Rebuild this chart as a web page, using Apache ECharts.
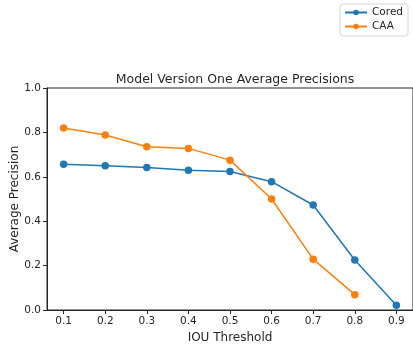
<!DOCTYPE html>
<html>
<head>
<meta charset="utf-8">
<script src="https://cdn.jsdelivr.net/npm/echarts@6/dist/echarts.min.js"></script>
<style>
  html, body { margin: 0; padding: 0; background: #fff; }
  #chart { width: 413px; height: 351px; }
</style>
</head>
<body>
<div id="chart"></div>
<script>
// IOU thresholds and average precision per model variant
const thresholds = [0.1, 0.2, 0.3, 0.4, 0.5, 0.6, 0.7, 0.8, 0.9];
const coredAP = [0.656, 0.650, 0.642, 0.630, 0.624, 0.578, 0.473, 0.225, 0.021];
const caaAP = [0.820, 0.788, 0.735, 0.728, 0.675, 0.500, 0.229, 0.069];
const xTicks = [0.1, 0.2, 0.3, 0.4, 0.5, 0.6, 0.7, 0.8, 0.9];

const font = 'DejaVu Sans';
const ink = '#262626';

const pairs = (xs, ys) => ys.map((y, i) => [xs[i], y]);

const chart = echarts.init(document.getElementById('chart'), null, { renderer: 'canvas' });
chart.setOption({
  animation: false,
  backgroundColor: '#fff',
  textStyle: { fontFamily: font, color: ink },
  title: {
    text: 'Model Version One Average Precisions',
    left: 230, top: 68, textAlign: 'center',
    textStyle: { fontFamily: font, fontSize: 12.5, fontWeight: 'normal', color: ink }
  },
  legend: {
    orient: 'vertical',
    right: 5, top: 4,
    itemWidth: 22, itemHeight: 7, itemGap: 3,
    padding: [3, 5, 4, 4],
    borderColor: '#d6d6d6', borderWidth: 1, borderRadius: 3,
    backgroundColor: '#fff',
    textStyle: { fontFamily: font, fontSize: 10.5, color: ink },
    data: ['Cored', 'CAA']
  },
  grid: {
    left: 47, right: 0, top: 88, bottom: 41,
    containLabel: false, outerBoundsMode: 'none',
    show: true, borderColor: ink, borderWidth: 1, backgroundColor: 'transparent'
  },
  xAxis: {
    type: 'value', min: 0.06, max: 0.94,
    name: 'IOU Threshold', nameLocation: 'middle', nameGap: 22, nameMoveOverlap: false,
    nameTextStyle: { fontFamily: font, fontSize: 12, color: ink },
    axisLine: { show: true, lineStyle: { color: ink, width: 1 } },
    axisTick: { show: true, length: 4, inside: false, customValues: xTicks, lineStyle: { color: ink } },
    axisLabel: { customValues: xTicks, fontFamily: font, fontSize: 10.5, color: ink, margin: 6,
      formatter: v => v.toFixed(1) },
    splitLine: { show: false }
  },
  yAxis: {
    type: 'value', min: 0, max: 1, interval: 0.2,
    name: 'Average Precision', nameLocation: 'middle', nameGap: 26, nameMoveOverlap: false,
    nameTextStyle: { fontFamily: font, fontSize: 12, color: ink },
    axisLine: { show: true, lineStyle: { color: ink, width: 1 } },
    axisTick: { show: true, length: 4, inside: false, lineStyle: { color: ink } },
    axisLabel: { fontFamily: font, fontSize: 10.5, color: ink, margin: 6,
      formatter: v => v.toFixed(1) },
    splitLine: { show: false }
  },
  series: [
    {
      name: 'Cored', type: 'line', data: pairs(thresholds, coredAP),
      color: '#1f77b4', symbol: 'circle', symbolSize: 7.5,
      lineStyle: { width: 1.5 }, itemStyle: { color: '#1f77b4' }
    },
    {
      name: 'CAA', type: 'line', data: pairs(thresholds, caaAP),
      color: '#ff7f0e', symbol: 'circle', symbolSize: 7.5,
      lineStyle: { width: 1.5 }, itemStyle: { color: '#ff7f0e' }
    }
  ]
});
</script>
</body>
</html>
